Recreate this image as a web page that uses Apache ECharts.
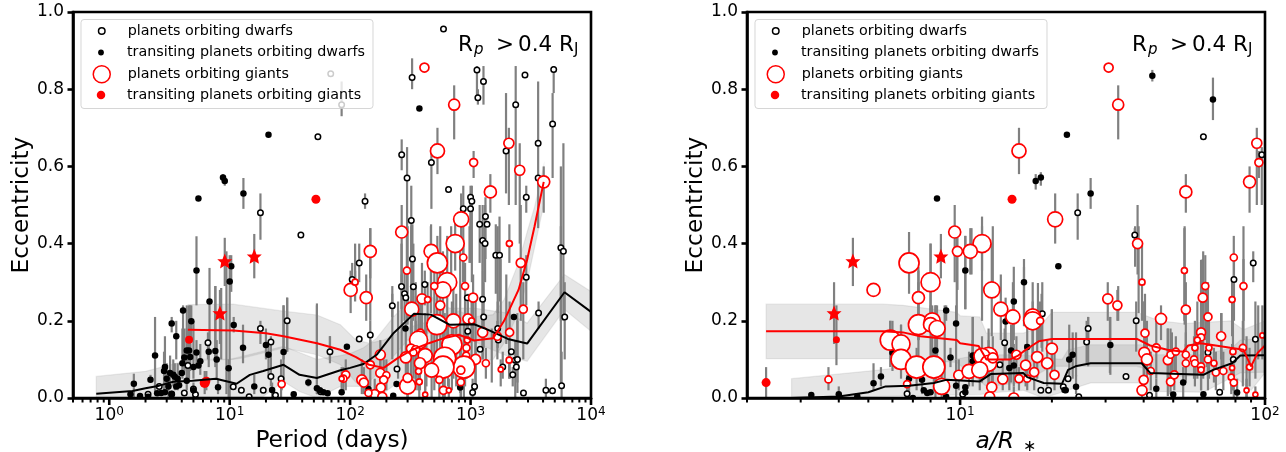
<!DOCTYPE html>
<html><head><meta charset="utf-8">
<script src="https://cdn.jsdelivr.net/npm/echarts@6/dist/echarts.min.js"></script>
<style>html,body{margin:0;padding:0;background:#fff}#c{width:1286px;height:452px}</style>
</head><body><div id="c"></div>
<script>
// Rows: [x, eccentricity, errLow, errHigh] ; giants add a stellar-size value last.
const periodDwarfsOpen=[[6.6,.143,.1,.17],[18,.18,.14,.2],[22,.145,.09,.16],[30,.2,.12,.26],[68,.12,.1,.16],[39,.422],[18,.48,.41,.53],[54,.677],[4.5,.084,.05,.12],[10.7,.029],[12.5,.02],[14.5,.003],[19,.02],[22,.056,.03,.1],[24,.007],[26.7,.05,0,.1],[2.1,.01],[2.6,.03],[3.3,.01],[4.2,.013],[5,.023],[5.2,.009],[57,.016],[119,.35,.3,.4],[104,.307,.28,.35],[329,.36,.3,.45],[267,.289,.23,.4],[335,.288,.2,.4],[417,.294,.24,.33],[283,.27,.2,.33],[290,.26],[224,.239,.21,.27],[147,.163,.1,.2],[119,.153],[245,.075],[1200,.126],[948,.173,.1,.26],[940,.26],[1260,.256,.18,.33],[1285,.21,.13,.3],[1260,.408,.33,.5],[1320,.4,.3,.5],[1620,.37,.27,.45],[1740,.37,.25,.47],[1680,.18,.13,.25],[1700,.15],[1850,.08,.05,.12],[2180,.12],[2350,.098,0,.15],[2450,.1,.04,.2],[2400,.08],[2240,.06,.03,.08],[2900,.313,.24,.37],[2750,.013],[3670,.22,.18,.25],[4220,.02,0,.05],[4790,.019],[5700,.032,0,.12],[5620,.389,.2,.6],[5900,.38,.2,.66],[6050,.21,.1,.3],[1080,.03],[1040,.014,0,.05],[596,.956],[1130,.85,.78,.86],[1280,.82,.76,.86],[1150,.778,.76,.8],[327,.83,.8,.88],[2830,.837],[4900,.851,.79,.86],[2370,.76,.5,.86],[4800,.71,.57,.79],[3640,.66,.44,.82],[1970,.64,.53,.79],[3640,.57],[2900,.52,.48,.55],[268,.63,.59,.67],[473,.61,.49,.65],[297,.57,.2,.65],[133,.51,.49,.53],[322,.46,.35,.55],[870,.49,.3,.55],[1000,.52,.38,.55],[1025,.51,.3,.55],[1000,.49,.35,.53],[1330,.47,.36,.52],[1190,.45,.35,.5],[1370,.45],[656,.54],[69,.84],[85,.76,.73,.82]];
const periodDwarfsTransit=[[5.3,.33,.24,.419],[10.3,.341,.275,.37],[10,.302,0,.37],[6.8,.25,.143,.337],[4.1,.227,.11,.24],[3.3,.193,.17,.21],[3.6,.16,.1,.2],[10.8,.189,.17,.21],[4.8,.199,.15,.24],[2.4,.11,.01,.21],[2.9,.08,.03,.16],[2.85,.07,.02,.12],[3.2,.065,.03,.11],[3,.05,.02,.09],[3.4,.06,.03,.1],[3.5,.055,.02,.09],[3.7,.05,.02,.09],[2.2,.047,.04,.06],[1.6,.037,0,.063],[1.5,.01],[1.8,.005],[2.1,.003],[2.5,.012],[2.7,.013],[2.9,.015],[3.1,.03,0,.07],[3.3,.011],[3.6,.03],[3.8,.033],[4,.065],[4.05,.09,.05,.18],[4.2,.105,.06,.18],[4.4,.123,.07,.18],[4.6,.123,.05,.24],[4.7,.106,.07,.14],[5,.08,.05,.2],[5.3,.118,.08,.15],[5.5,.084],[5.7,.095,.06,.14],[5,.02,0,.04],[4.4,.045,.02,.09],[6.7,.12,.08,.16],[7.6,.122,.08,.29],[7.8,.1,.05,.15],[8,.028,.01,.05],[9.8,.077,0,.1],[12.9,.13,.09,.19],[16,.03,.01,.06],[20,.137,.1,.18],[21,.112,.05,.14],[22.5,.021,0,.04],[28,.119,.03,.24],[34,.01],[45,.04,.03,.05],[53,.025,.01,.24],[56,.02],[60,.015],[65,.012],[8.8,.571,.56,.58],[9.1,.562,.55,.575],[13,.53,.49,.57],[5.5,.517],[21,.682],[376,.75],[94,.133],[288,.18],[142,.023],[243,.036],[228,.006],[85,.015],[2290,.21],[820,.027]];
const periodGiantsOpen=[[414,.856,.856,.856,4.5],[731,.76,.67,.81,5.5],[531,.64,.58,.7,7],[1060,.61,.57,.64,4],[2080,.66,.5,.7,5],[2560,.59,.4,.66,5],[4050,.56,.48,.6,6],[1460,.534,.48,.58,6],[835,.463,.4,.53,7.5],[268,.43,.3,.5,6],[745,.4,.33,.47,9],[470,.38,.25,.45,7],[530,.35,.2,.42,10],[870,.364,.3,.4,3.5],[147,.38,.31,.44,6],[101,.28,.22,.33,6.5],[136,.26,.2,.32,6],[110,.3,.25,.33,3],[296,.33,.2,.42,3.5],[2100,.4,.35,.45,3],[2610,.35,.2,.5,4.5],[2740,.23,.1,.3,4],[640,.3,.15,.42,9.5],[590,.28,.1,.38,8],[500,.29,.15,.36,3.5],[900,.29,.2,.35,3.5],[1050,.26,.15,.32,4.5],[395,.257,.15,.35,5],[440,.255,.2,.3,3],[560,.24,.1,.33,4.5],[325,.23,.1,.3,7],[720,.2,.05,.3,7],[950,.205,.1,.27,5],[1020,.2,.1,.25,3],[525,.19,.05,.3,10],[383,.168,.1,.25,4],[1260,.17,.1,.22,5],[2110,.17,.05,.25,4],[1670,.16,.1,.2,4],[370,.15,.02,.25,9],[700,.138,.02,.25,10],[925,.13,.05,.2,3.5],[940,.15,.08,.2,3],[320,.128,.05,.2,4.5],[350,.125,.05,.2,4],[335,.118,.05,.15,3.5],[178,.112,.05,.15,5],[290,.105,.02,.2,5.5],[420,.11,.02,.22,7],[380,.09,.02,.15,5.5],[920,.11,.05,.15,3.5],[1100,.1,.02,.15,5],[1340,.09,.05,.13,3.5],[2090,.098,.05,.15,3],[1780,.074,.03,.1,2.5],[880,.08,0,.2,11],[610,.103,0,.22,11],[590,.08,0,.2,11],[475,.072,0,.2,7],[830,.072,0,.13,4],[370,.069,.02,.12,3],[147,.086,.03,.15,4],[92,.06,.02,.1,4],[88,.05,.02,.08,3.5],[125,.047,.01,.1,5],[130,.04,.01,.08,4.5],[178,.065,.02,.12,4.5],[200,.059,.02,.1,3.5],[190,.047,.01,.1,4],[300,.031,0,.1,8],[300,.052,0,.1,4.5],[550,.047,0,.1,3.5],[375,.042,0,.08,3],[180,.027,0,.06,4.5],[160,.01,0,.05,4.5],[185,.003,0,.04,4.5],[142,.013,0,.04,3.5],[595,.02,0,.05,4],[660,.02,0,.05,2.5],[420,.009,0,.04,2.5],[830,.041,0,.08,3.5],[27,.036,.02,.05,3.5],[85,.05,.02,.08,2.5]];
const periodGiantsTransit=[[4.6,.151,.09,.2,3.5],[6.4,.045,.02,.07,3.5],[6.2,.039,.01,.07,4.5],[52,.515,.515,.515,4]];
const periodGiantsStars=[[9.1,.355,.29,.415],[8.3,.22,.14,.28],[16,.367,.31,.425]];
// Error bars whose points sit hidden behind larger markers: [x, 0, errLow, errHigh]
const periodHiddenBars=[[110,0,.3,.4],[147,0,.2,.44],[224,0,.1,.29],[268,0,.1,.32],[300,0,.19,.445],[322,0,.1,.445],[468,0,.22,.445],[560,0,.3,.445],[690,0,.298,.445],[820,0,.013,.4],[980,0,.35,.445],[1260,0,.1,.445],[1680,0,.22,.445],[1780,0,.19,.36],[1980,0,.14,.32],[2450,0,.013,.22],[5620,0,.03,.445],[250,0,.05,.25],[350,0,.02,.3],[430,0,.03,.18],[500,0,.02,.15],[650,0,.03,.2],[760,0,.03,.27],[900,0,.03,.18],[1100,0,.03,.27],[1500,0,.04,.18],[4.4,0,.1,.24],[4.7,0,.1,.24],[7.6,0,.1,.29],[8.5,0,.1,.285],[9.4,0,.01,.38],[28,0,.1,.24],[30,0,.12,.26],[53,0,.01,.245],[68,0,.09,.16]];
const periodTrendDwarfs=[[.78,.011],[1.56,.018],[2,.025],[2.6,.032],[3.4,.042],[4.9,.045],[7.7,.05],[11.4,.037],[14.7,.06],[19,.07],[28,.086],[38,.06],[53,.052],[83,.072],[100,.078],[129,.088],[166,.112],[229,.168],[338,.218],[468,.216],[667,.19],[1070,.191],[1385,.177],[2040,.153],[2950,.141],[6025,.274],[10000,.223]];
const periodBandDwarfsUp=[[.78,.056],[2,.069],[4.4,.097],[10,.1],[28,.134],[53,.1],[83,.11],[100,.115],[129,.13],[166,.155],[229,.21],[338,.263],[468,.263],[667,.233],[1070,.233],[2040,.22],[2950,.194],[6025,.32],[10000,.276]];
const periodBandDwarfsLo=[[.78,0],[19,.004],[28,.043],[38,.017],[53,0],[83,.03],[100,.03],[129,.03],[166,.06],[229,.108],[338,.168],[468,.168],[667,.147],[1070,.147],[1385,.13],[2040,.108],[2950,.095],[6025,.229],[10000,.173]];
const periodTrendGiants=[[4.5,.177],[10.7,.175],[20,.168],[28,.16],[53,.142],[83,.125],[112,.106],[144,.086],[190,.078],[250,.104],[330,.125],[450,.142],[600,.155],[800,.164],[1070,.149],[1540,.155],[1900,.2],[2500,.28],[2950,.358],[3400,.445],[4050,.56]];
const periodBandGiantsUp=[[4.5,.242],[10.7,.243],[28,.225],[53,.215],[83,.19],[112,.15],[144,.142],[190,.15],[250,.168],[330,.186],[600,.21],[800,.225],[1070,.21],[1540,.216],[1900,.255],[2500,.35],[2950,.43],[3400,.495],[4050,.6]];
const periodBandGiantsLo=[[4.5,.1],[10.7,.1],[13,.104],[28,.13],[53,.112],[83,.086],[112,.04],[144,.017],[190,.013],[250,.04],[330,.065],[600,.1],[800,.108],[1070,.09],[1540,.1],[1900,.142],[2500,.22],[2950,.3],[3400,.39],[4050,.5]];

const scaleDwarfsOpen=[[62.8,.677],[24.3,.48,.41,.53],[97.6,.63,.5,.65],[37.4,.422,.4,.44],[91.5,.35,.3,.38],[79.1,.307,.2,.36],[18.6,.218,.12,.3],[26.3,.18,.14,.21],[37.8,.2,.12,.25],[26,.145,.09,.2],[14,.143,.1,.18],[93,.152,.05,.25],[65,.118],[78.7,.1],[35,.056],[18.4,.02],[19.5,.02],[21.8,.029],[22.6,.05],[24.5,.003],[41.8,.007],[71,.015],[13.5,.086],[6.7,.011],[10.2,.01]];
const scaleDwarfsTransit=[[22.4,.682],[42.7,.835,.82,.85],[67.5,.773,.72,.83],[17.7,.562,.54,.58],[18.4,.571,.55,.585],[26.8,.53,.49,.57],[8.4,.517],[10.4,.33,.23,.42],[9.7,.193,.1,.24],[9,.227,.2,.24],[9.3,.105,.08,.13],[8.3,.123,.03,.24],[11,.11,.05,.21],[11,.095,.04,.15],[6,.117,.07,.2],[5.2,.038,.02,.09],[5.5,.056,.03,.08],[4,.01,0,.03],[4.6,.004],[3.25,.008,0,.015],[6.8,.05,0,.09],[7.5,.047,.01,.09],[7.6,.02],[7.8,.013],[8,.015],[9,.003],[9.7,.032,0,.1],[10.4,.028],[10.4,.015],[7,0],[16.2,.3,.2,.34],[15,.25,.15,.34],[14.1,.198,.1,.26],[21,.341],[31.1,.137,.06,.21],[23.4,.112,.05,.17],[22.8,.1,.05,.19],[16.6,.132,.06,.2],[14.7,.123,.04,.19],[15,.084,.03,.14],[14.5,.078,.02,.12],[24,.029,.01,.06],[22,.021],[22.2,.02],[44,.024,0,.05],[53.9,.04,0,.08],[50,.009],[62.8,.01],[81,.014,0,.05]];
const scaleGiantsOpen=[[30.7,.856,.856,.856,4.5],[33,.76,.67,.81,5.5],[15.6,.64,.58,.7,7],[20.5,.463,.4,.53,7.5],[55,.534,.48,.58,6],[89,.56,.48,.6,6],[95.5,.61,.57,.64,4],[94,.66,.5,.7,5],[9.6,.43,.3,.5,6],[11.8,.4,.33,.47,9],[9.8,.38,.28,.43,5],[10.8,.38,.32,.44,7],[6.8,.35,.27,.43,10],[8,.3,.2,.4,9.5],[5.2,.28,.28,.28,6.5],[7.3,.26,.15,.3,6],[7.3,.19,.08,.33,10],[8.1,.2,.1,.24,8],[8,.19,.1,.24,7],[8.4,.18,.08,.24,8],[5.9,.15,.08,.2,10],[6.4,.14,.08,.19,9],[6.4,.1,.05,.15,10],[7.2,.08,.02,.13,11],[8.2,.08,.02,.13,11],[8.7,.03,0,.07,8],[9.9,.059,.02,.1,5],[10.7,.069,.03,.12,7],[6.7,.036,.01,.06,3.5],[3.7,.048,.02,.08,3.5],[12.7,.28,.16,.4,8],[13.6,.23,.15,.32,7],[14.9,.21,.12,.3,7],[17.3,.21,.1,.3,8],[17.3,.2,.1,.25,9],[18.3,.2,.15,.25,3.5],[20,.128,.05,.23,5.5],[15.3,.112,.05,.16,4.5],[17.9,.106,.05,.2,5.5],[19.3,.09,.03,.15,5.5],[16.4,.085,.03,.14,5],[17.5,.067,.02,.12,4.5],[20.4,.06,.02,.12,4.5],[15.6,.05,.02,.08,4],[13.8,.049,.02,.1,5],[16.6,.05,.02,.09,3.5],[12.7,.028,0,.08,5],[12.5,.003,0,.03,5],[15,0,0,.03,5],[12.4,.108,.03,.18,9],[11.8,.108,.04,.16,8],[12.4,.09,.03,.15,8],[11.6,.073,.02,.13,8],[12.8,.104,.04,.16,5],[30.5,.257,.2,.3,5],[32.8,.24,.2,.28,4.5],[38.2,.4,.32,.5,5],[39.5,.3,.2,.4,3],[40.4,.168,.1,.27,4],[45.6,.205,.15,.24,5.5],[40.2,.117,.05,.25,5.5],[41,.1,.04,.2,5.5],[40,.047,.02,.1,4.5],[39.5,.02,0,.05,5],[42.2,.07,.02,.12,3.5],[44,.13,.05,.2,4],[48,.098,.04,.18,4.5],[49,.042,.01,.1,4],[50.4,.06,.02,.12,4],[49,.112,.05,.18,3.5],[51,.12,.06,.16,3.5],[54.4,.33,.2,.44,3],[55,.229,.1,.3,4.5],[55,.112,.05,.17,3.5],[55,.09,.04,.14,3.5],[58.9,.13,.05,.2,3],[58.5,.1,.05,.16,3.5],[58.9,.09,.03,.13,3.5],[61.7,.17,.1,.3,4.5],[61.7,.157,.08,.25,3.5],[60,.15,.05,.25,3],[61.7,.082,.02,.14,3.5],[61.7,.073,.02,.13,3],[62.5,.26,.1,.36,4.5],[63.7,.29,.15,.37,3.5],[65,.21,.05,.3,4],[65.5,.13,.05,.2,3],[65,.1,.02,.16,3.5],[68,.09,.04,.13,3],[69,.066,.02,.12,3.5],[71.8,.16,.1,.22,4.5],[73,.07,.02,.12,3.5],[78,.255,.2,.28,3],[85,.29,.2,.36,3.5],[79,.364,.3,.42,3.5],[78.5,.12,.02,.25,3],[78,.078,.02,.14,2.5],[77.5,.054,.01,.1,3],[79,.04,0,.09,3.5],[84.6,.13,.03,.2,3.5],[89,.08,.03,.13,3],[87,.02,0,.05,2.5],[93,.009,0,.03,2.5],[98,.162,.1,.24,2.5]];
const scaleGiantsTransit=[[2.31,.04,0,.08,4],[3.93,.151,.085,.24,3],[14.8,.515,.515,.515,4]];
const scaleGiantsStars=[[4.45,.355,.29,.415],[3.86,.22,.14,.3],[8.65,.367,.31,.425]];
const scaleHiddenBars=[[11.8,0,.2,.445],[12.8,0,.298,.445],[16.2,0,.186,.36],[18,0,.142,.298],[18.5,0,.13,.27],[20,0,.099,.229],[24,0,.056,.17],[26.3,0,.082,.21],[31,0,.065,.21],[33,0,.2,.29],[37.5,0,.34,.445],[38.5,0,.22,.445],[40.2,0,.1,.25],[48,0,.005,.18],[49.5,0,.03,.17],[54.5,0,.19,.445],[61.7,0,.099,.358],[62.7,0,.05,.38],[64.5,0,.08,.3],[72,0,.065,.22],[78,0,.16,.3],[85,0,.15,.445],[87,0,0,.16],[95,0,.1,.24],[5.9,0,.15,.2],[6.4,0,.1,.19],[7.3,0,.15,.34],[8,0,.19,.4],[8.3,0,0,.24],[8.9,0,.05,.24],[9.75,0,.2,.43],[10.4,0,.23,.42],[10.9,0,.32,.44],[11,0,.03,.21]];
const scaleTrendGiants=[[2.31,.173],[5.6,.173],[6.5,.17],[7.4,.16],[9.75,.15],[10,.142],[11.5,.135],[12.2,.1],[14.6,.1],[15.5,.11],[16.1,.12],[18.1,.147],[20,.153],[38,.153],[42,.136],[47.8,.125],[53.9,.12],[56,.136],[61.6,.142],[77,.13],[85,.125],[90,.082],[94.6,.117],[100,.136]];
const scaleBandGiantsUp=[[2.31,.243],[5.6,.243],[6.5,.24],[9.75,.222],[10,.213],[11.6,.21],[12.2,.168],[16.1,.168],[18,.18],[20,.222],[38,.222],[45,.2],[54,.193],[77,.2],[85,.177],[100,.2]];
const scaleBandGiantsLo=[[2.31,.102],[6.5,.102],[9.75,.092],[12.2,.03],[16.1,.04],[20,.082],[38,.082],[45,.065],[54,.056],[77,.065],[90,.02],[100,.065]];
const scaleTrendDwarfs=[[2.8,0],[4,.004],[5,.015],[5.7,.03],[6.8,.032],[8.2,.039],[9,.047],[11.6,.043],[12.6,.062],[16.1,.065],[16.6,.054],[18.8,.039],[21.6,.037],[22.6,.073],[23.9,.082],[26.8,.09],[39.4,.09],[42,.065],[62.8,.06],[67.6,.073],[78,.09],[83,.11],[100,.111]];
const scaleBandDwarfsUp=[[2.8,.05],[5.5,.073],[8.2,.09],[11.6,.112],[16.1,.112],[18.8,.104],[21.6,.1],[22.6,.125],[26.8,.138],[39.4,.138],[42,.112],[62.8,.112],[78,.13],[83,.15],[100,.155]];
const scaleBandDwarfsLo=[[2.8,0],[11.6,.009],[12.5,.013],[16.1,.02],[18.8,0],[22.6,.02],[26.8,.039],[39.4,.039],[42,.017],[62.8,.015],[83,.065],[100,.067]];

const periodMajorTicks=[1,10,100,1000,10000];
const periodMinorTicks=[.5,.6,.7,.8,.9,2,3,4,5,6,7,8,9,20,30,40,50,60,70,80,90,200,300,400,500,600,700,800,900,2000,3000,4000,5000,6000,7000,8000,9000];
const scaleMajorTicks=[10,100];
const scaleMinorTicks=[2,3,4,5,6,7,8,9,20,30,40,50,60,70,80,90];
const legendLabels=['planets orbiting dwarfs','transiting planets orbiting dwarfs','planets orbiting giants','transiting planets orbiting giants'];

const FONT='DejaVu Sans';
const STAR='path://M0,-10 L2.9,-3.1 L9.5,-3.1 L4.6,1.2 L5.9,8.1 L0,4.6 L-5.9,8.1 L-4.6,1.2 L-9.5,-3.1 L-2.9,-3.1 Z';
const panels=[
 {left:73,right:591,xMin:.5,xMax:10000,major:periodMajorTicks,minor:periodMinorTicks,open:periodDwarfsOpen,transit:periodDwarfsTransit,gOpen:periodGiantsOpen,gTransit:periodGiantsTransit,stars:periodGiantsStars,hidden:periodHiddenBars,tD:periodTrendDwarfs,tG:periodTrendGiants,bD:[periodBandDwarfsUp,periodBandDwarfsLo],bG:[periodBandGiantsUp,periodBandGiantsLo],dx:0,name:'Period (days)'},
 {left:747,right:1265,xMin:2,xMax:100,major:scaleMajorTicks,minor:scaleMinorTicks,open:scaleDwarfsOpen,transit:scaleDwarfsTransit,gOpen:scaleGiantsOpen,gTransit:scaleGiantsTransit,stars:scaleGiantsStars,hidden:scaleHiddenBars,tD:scaleTrendDwarfs,tG:scaleTrendGiants,bD:[scaleBandDwarfsUp,scaleBandDwarfsLo],bG:[scaleBandGiantsUp,scaleBandGiantsLo],dx:674,name:'{i|a/R}{s| ∗}'}
];
const sup=v=>'{b|10}{s|'+Math.round(Math.log10(v))+'}';
const grid=[],xAxis=[],yAxis=[],series=[],legend=[],graphic=[];
panels.forEach((p,i)=>{
 grid.push({left:p.left,width:p.right-p.left,top:12,height:386,outerBoundsMode:'none',show:true,borderColor:'#000',borderWidth:2.6,backgroundColor:'transparent',z:10});
 xAxis.push({type:'log',logBase:10,gridIndex:i,min:p.xMin,max:p.xMax,z:10,splitLine:{show:false},minorTick:{show:false},axisLine:{show:true,onZero:false,lineStyle:{color:'#000',width:2.6}},
   name:p.name,nameLocation:'middle',nameGap:31,
   nameTextStyle:{fontFamily:FONT,fontSize:23.3,color:'#000',rich:{i:{fontFamily:FONT,fontStyle:'italic',fontSize:23.3,color:'#000'},s:{fontFamily:FONT,fontSize:16,color:'#000',padding:[10,0,0,4]}}},
   axisTick:{show:false},
   axisLabel:{show:true,margin:8,customValues:p.major,formatter:sup,fontFamily:FONT,color:'#000',rich:{b:{fontFamily:FONT,fontSize:17,color:'#000',lineHeight:20},s:{fontFamily:FONT,fontSize:12,color:'#000',verticalAlign:'top',lineHeight:20}}}});
 yAxis.push({type:'value',gridIndex:i,min:0,max:1,interval:.2,z:10,name:'Eccentricity',nameLocation:'middle',nameGap:39,nameTextStyle:{fontFamily:FONT,fontSize:23.3,color:'#000'},
   splitLine:{show:false},axisLine:{show:true,onZero:false,lineStyle:{color:'#000',width:2.6}},axisTick:{show:true,length:5.5,lineStyle:{color:'#000',width:2.6}},
   axisLabel:{fontFamily:FONT,fontSize:17,color:'#000',margin:9,formatter:v=>v.toFixed(1)}});
 const ax={xAxisIndex:i,yAxisIndex:i};
 const band=(b)=>{const pts=b[0].concat(b[1].slice().reverse());
   series.push(Object.assign({type:'custom',z:2,silent:true,clip:true,data:pts,encode:{x:0,y:1},
     renderItem:(ps,api)=>ps.dataIndex!==0?null:({type:'polygon',shape:{points:pts.map(q=>api.coord(q))},style:{fill:'rgba(128,128,128,.2)',stroke:'rgba(128,128,128,.15)',lineWidth:1.2}})},ax));};
 band(p.bG);band(p.bD);
 const bars=[].concat(p.hidden,p.open,p.transit,p.gOpen,p.gTransit,p.stars).filter(r=>r.length>=4&&r[2]!==r[3]);
 series.push(Object.assign({type:'custom',z:3,silent:true,clip:true,data:bars.map(r=>[r[0],r[1],r[2],r[3]]),encode:{x:0,y:[2,3]},
   renderItem:(ps,api)=>{const a=api.coord([api.value(0),api.value(2)]),b=api.coord([api.value(0),api.value(3)]);
     return {type:'line',shape:{x1:a[0],y1:a[1],x2:b[0],y2:b[1]},style:{stroke:'#808080',lineWidth:2.2}};}},ax));
 const sc=(name,rows,z,size,st,sym)=>series.push(Object.assign({type:'scatter',name,z,data:rows.map(r=>[r[0],r[1],r[4]]),symbol:sym||'circle',symbolSize:size,itemStyle:Object.assign({opacity:1},st),silent:true,animation:false},ax));
 sc(legendLabels[0],p.open,4,5.5,{color:'#fff',borderColor:'#000',borderWidth:1.5});
 sc(legendLabels[1],p.transit,4,6.5,{color:'#000'});
 sc(legendLabels[2],p.gOpen,5,v=>v[2]*2,{color:'#fff',borderColor:'#f00',borderWidth:1.7});
 sc(legendLabels[3],p.gTransit,5,v=>v[2]*2+1,{color:'#f00'});
 sc('stars',p.stars,7,15,{color:'#f00'},STAR);
 [[p.tD,'#000'],[p.tG,'#f00']].forEach(([d,c])=>series.push(Object.assign({type:'line',data:d,z:6,showSymbol:false,silent:true,lineStyle:{color:c,width:2},smooth:false},ax)));
 // x ticks: rect markers hung below the axis at each tick value
 [[p.major,[2.6,7]],[p.minor,[2,4.5]]].forEach(([vals,sz])=>series.push(Object.assign({type:'scatter',z:11,silent:true,clip:false,data:vals.map(v=>[v,0]),symbol:'rect',symbolSize:sz,symbolOffset:[0,sz[1]/2],itemStyle:{color:'#000',opacity:1}},ax)));
 // legend
 const cx=101+p.dx,tx=127+p.dx,rows=[31,52.5,73.5,95];
 const icon=[{s:6.5,st:{color:'#fff',borderColor:'#000',borderWidth:1.5}},{s:5.8,st:{color:'#000'}},{s:17,st:{color:'#fff',borderColor:'#f00',borderWidth:1.5}},{s:8.5,st:{color:'#f00'}}];
 icon.forEach((ic,k)=>legend.push({show:true,selectedMode:false,padding:0,left:cx-ic.s/2,top:ic.s>12?rows[k]-ic.s/2:rows[k]-7,itemWidth:ic.s,itemHeight:ic.s,z:9,
   data:[{name:legendLabels[k],icon:'circle',itemStyle:Object.assign({opacity:1},ic.st)}],textStyle:{fontFamily:FONT,fontSize:14.3,color:'#000',padding:[0,0,0,tx-cx-ic.s/2-5]}}));
 graphic.push({type:'rect',z:8,silent:true,shape:{x:81+p.dx,y:19.5,width:292,height:89,r:3},style:{fill:'rgba(255,255,255,.8)',stroke:'rgba(204,204,204,.8)',lineWidth:1}});
 graphic.push({type:'rect',z:8,silent:true,shape:{x:p.left-10,y:399.3,width:p.right-p.left+20,height:12},style:{fill:'#fff'}});
 graphic.push({type:'rect',z:8,silent:true,shape:{x:p.right,y:0,width:20,height:399},style:{fill:'#fff'}});
 const t=(text,x,y,size,style)=>graphic.push({type:'text',z:9,silent:true,x:x+p.dx,y,style:{text,fill:'#000',font:(style||'normal')+' '+size+'px "'+FONT+'"'}});
 t('R',458,34,21.5);t('p',474,43,15,'italic');t('>',496,34,21.5);t('0.4',518,34,21.5);t('R',559,34,21.5);t('J',574,43,15);
});
const chart=echarts.init(document.getElementById('c'),null,{renderer:'canvas'});
chart.setOption({animation:false,backgroundColor:'#fff',grid,xAxis,yAxis,series,legend,graphic:{elements:graphic}});
</script></body></html>
